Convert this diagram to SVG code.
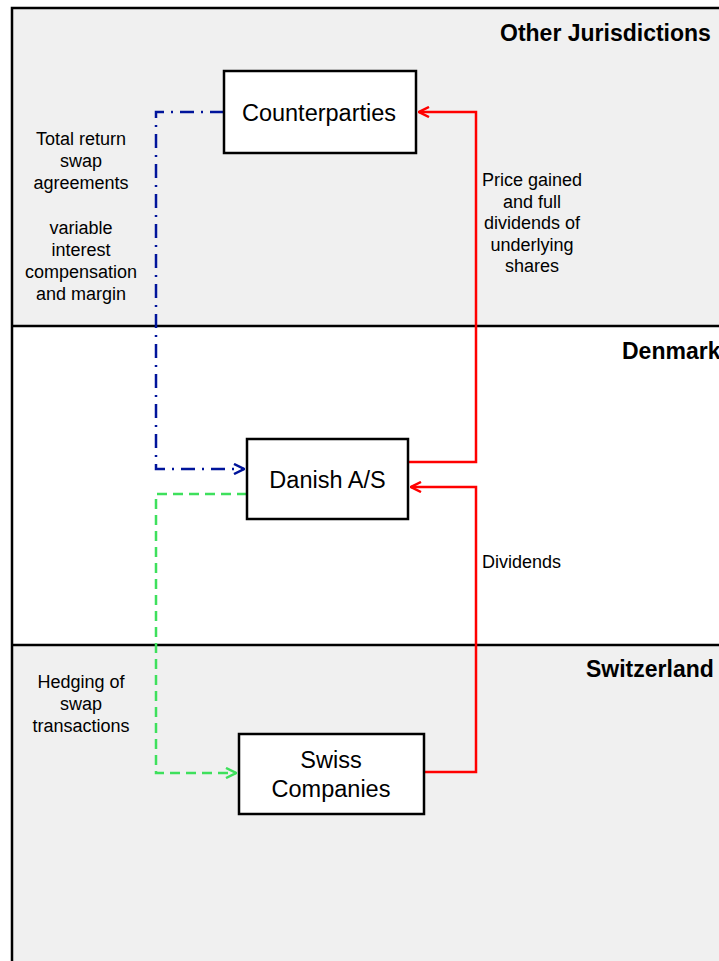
<svg xmlns="http://www.w3.org/2000/svg" width="719" height="961" viewBox="0 0 719 961">
<defs>
<style>
.lbl{font-family:"Liberation Sans",Arial,sans-serif;font-size:18px;fill:#000;text-anchor:middle}
.reg{font-family:"Liberation Sans",Arial,sans-serif;font-size:23px;font-weight:bold;fill:#000}
.box{fill:#fff;stroke:#000;stroke-width:2.5}
.name{font-family:"Liberation Sans",Arial,sans-serif;font-size:23.5px;fill:#000;text-anchor:middle}
.red{fill:none;stroke:#ff0000;stroke-width:2.5}
.blue{fill:none;stroke:#00149b;stroke-width:2.5;stroke-dasharray:14 7 2 7}
.green{fill:none;stroke:#3ee05c;stroke-width:2.5;stroke-dasharray:10 6}
</style>
<marker id="arR" viewBox="0 0 10 10" refX="9" refY="5" markerWidth="5" markerHeight="5" orient="auto" markerUnits="strokeWidth">
<path d="M1,1 L9,5 L1,9" fill="none" stroke="#ff0000" stroke-width="2"/>
</marker>
<marker id="arB" viewBox="0 0 10 10" refX="9" refY="5" markerWidth="5" markerHeight="5" orient="auto" markerUnits="strokeWidth">
<path d="M1,1 L9,5 L1,9" fill="none" stroke="#00149b" stroke-width="2"/>
</marker>
<marker id="arG" viewBox="0 0 10 10" refX="9" refY="5" markerWidth="5" markerHeight="5" orient="auto" markerUnits="strokeWidth">
<path d="M1,1 L9,5 L1,9" fill="none" stroke="#3ee05c" stroke-width="2"/>
</marker>
</defs>
<rect width="719" height="961" fill="#fff"/>
<g id="regions">
<rect x="12" y="8" width="720" height="318" fill="#f0f0f0"/>
<rect x="12" y="326" width="720" height="319" fill="#fff"/>
<rect x="12" y="645" width="720" height="330" fill="#f0f0f0"/>
<path d="M12,975 V8 H730" fill="none" stroke="#000" stroke-width="2.5"/>
<line x1="12" y1="326" x2="730" y2="326" stroke="#000" stroke-width="2.5"/>
<line x1="12" y1="645" x2="730" y2="645" stroke="#000" stroke-width="2.5"/>
<text class="reg" x="500" y="41">Other Jurisdictions</text>
<text class="reg" x="622" y="359">Denmark</text>
<text class="reg" x="586" y="677">Switzerland</text>
</g>
<g id="connectors">
<polyline class="red" points="408,462 476,462 476,112 419,112" marker-end="url(#arR)"/>
<polyline class="red" points="424,772 476,772 476,487 411,487" marker-end="url(#arR)"/>
<polyline class="blue" points="224,112 156,112 156,469 244,469" marker-end="url(#arB)"/>
<polyline class="green" points="247,494 156,494 156,773 236,773" marker-end="url(#arG)"/>
<text class="lbl" x="532" y="186">Price gained</text>
<text class="lbl" x="532" y="207.5">and full</text>
<text class="lbl" x="532" y="229">dividends of</text>
<text class="lbl" x="532" y="250.5">underlying</text>
<text class="lbl" x="532" y="272">shares</text>
<text class="lbl" x="482" y="568" style="text-anchor:start">Dividends</text>
<text class="lbl" x="81" y="145">Total return</text>
<text class="lbl" x="81" y="167">swap</text>
<text class="lbl" x="81" y="189">agreements</text>
<text class="lbl" x="81" y="233.5">variable</text>
<text class="lbl" x="81" y="255.5">interest</text>
<text class="lbl" x="81" y="278">compensation</text>
<text class="lbl" x="81" y="300">and margin</text>
<text class="lbl" x="81" y="688">Hedging of</text>
<text class="lbl" x="81" y="710">swap</text>
<text class="lbl" x="81" y="732">transactions</text>
</g>
<g id="counterparties">
<rect class="box" x="224" y="71" width="192" height="82"/>
<text class="name" x="319" y="121">Counterparties</text>
</g>
<g id="danish">
<rect class="box" x="247" y="439" width="161" height="80"/>
<text class="name" x="327.5" y="488">Danish A/S</text>
</g>
<g id="swiss">
<rect class="box" x="239" y="734" width="185" height="80"/>
<text class="name" x="331" y="768">Swiss</text>
<text class="name" x="331" y="797">Companies</text>
</g>
</svg>
